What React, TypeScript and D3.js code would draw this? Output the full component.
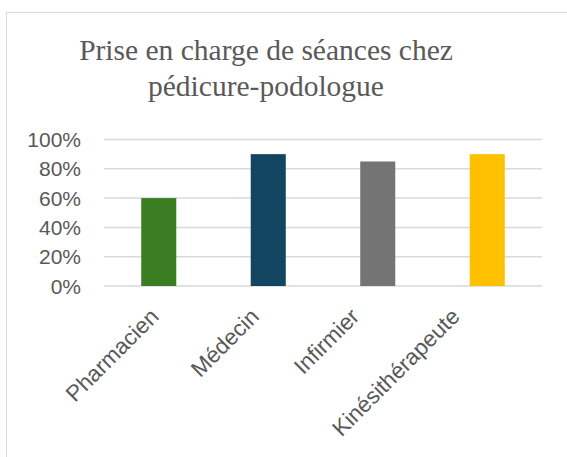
import React from "react";
import * as d3 from "d3";

const categories = ["Pharmacien", "Médecin", "Infirmier", "Kinésithérapeute"];
const values = [0.6, 0.9, 0.85, 0.9];
const colors = ["#3B7D23", "#124660", "#747474", "#FFC000"];
const yTicks = [0, 0.2, 0.4, 0.6, 0.8, 1.0];
const titleLines = ["Prise en charge de séances chez", "pédicure-podologue"];

export default function App() {
  const W = 567, H = 457;
  const x = d3.scaleBand<string>().domain(categories).range([104, 542]).paddingInner(0.68).paddingOuter(0.34);
  const y = d3.scaleLinear().domain([0, 1]).range([286, 139.5]);
  const labelX = d3.scalePoint<string>().domain(categories).range([160, 461]);
  const fmt = d3.format(".0%");
  return (
    <svg width={W} height={H} style={{ position: "absolute", left: 0, top: 0 }}>
      <rect x={0} y={0} width={W} height={H} fill="#fff" />
      <rect x={6.5} y={12.5} width={W + 10} height={H + 10} fill="#fff" stroke="#d9d9d9" strokeWidth={1} />
      <g fontFamily="'Liberation Serif', 'Times New Roman', serif" fontSize={29.5} fill="#595959" textAnchor="middle">
        {titleLines.map((t, i) => (
          <text key={i} x={266} y={60 + i * 36}>{t}</text>
        ))}
      </g>
      {yTicks.map((t) => (
        <line key={t} x1={104} x2={542} y1={y(t)} y2={y(t)} stroke="#d9d9d9" strokeWidth={1.5} />
      ))}
      <g fontFamily="'Liberation Sans', Arial, sans-serif" fontSize={21} fill="#595959" textAnchor="end">
        {yTicks.map((t) => (
          <text key={t} x={81} y={y(t) + 7.5}>{fmt(t)}</text>
        ))}
      </g>
      {categories.map((c, i) => (
        <rect key={c} x={x(c)!} y={y(values[i])} width={x.bandwidth()} height={y(0) - y(values[i])} fill={colors[i]} />
      ))}
      <g fontFamily="'Liberation Sans', Arial, sans-serif" fontSize={22.5} fill="#595959" textAnchor="end">
        {categories.map((c) => (
          <text key={c} transform={`translate(${labelX(c)},318) rotate(-45)`}>{c}</text>
        ))}
      </g>
    </svg>
  );
}
